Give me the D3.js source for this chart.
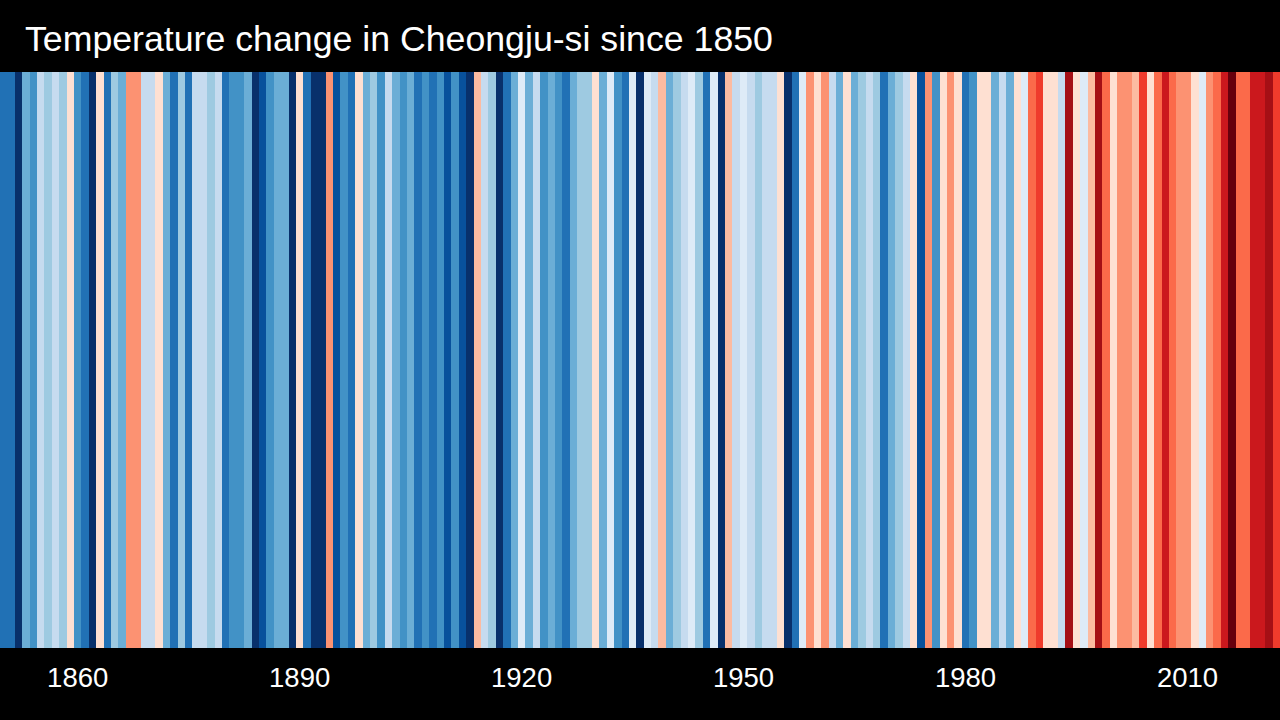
<!DOCTYPE html>
<html>
<head>
<meta charset="utf-8">
<script src="https://cdn.jsdelivr.net/npm/d3@7"></script>
<style>
html,body{margin:0;padding:0;background:#000;overflow:hidden}
svg{display:block}
text{font-family:"Liberation Sans",Arial,sans-serif;fill:#fff}
</style>
</head>
<body>
<svg id="chart" width="1280" height="720"></svg>
<script>
const chartTitle = "Temperature change in Cheongju-si since 1850";
const firstYear = 1850;
const tickYears = [1860, 1890, 1920, 1950, 1980, 2010];
const palette = ["#08306b","#08519c","#2171b5","#4292c6","#6baed6","#9ecae1","#c6dbef","#deebf7",
                 "#fee0d2","#fcbba1","#fc9272","#fb6a4a","#ef3b2c","#cb181d","#a50f15","#67000d"];
// Warming-stripe class per year (0 coldest .. 15 warmest), 1850 onward
const stripeClass = [
  2,2,0,4,3,6,5,6,5,8,
  3,2,0,8,2,5,4,10,10,6,
  6,8,4,2,5,2,6,6,5,6,
  2,3,3,4,0,1,3,4,4,0,
  8,2,0,0,10,1,3,2,8,4,
  5,3,6,4,3,4,2,3,2,3,
  1,3,1,0,9,6,5,0,2,4,
  7,4,6,3,4,3,2,4,5,5,
  8,4,7,3,2,7,0,7,6,9,
  4,5,6,7,5,2,7,0,9,6,
  7,6,5,6,6,8,0,2,7,10,
  8,10,6,4,8,4,5,6,5,2,
  4,5,6,8,1,10,3,8,10,8,
  2,3,8,8,4,6,4,8,7,11,
  12,8,8,6,14,8,7,9,14,11,
  8,10,10,9,12,8,11,13,11,10,
  10,8,7,10,11,13,15,11,11,13,
  13,14,12
];
const years = stripeClass.map((_, i) => firstYear + i);

const chartWidth = 1280, chartHeight = 720, stripeTop = 72, stripeBottom = 648;
const svg = d3.select("#chart");
const x = d3.scaleBand().domain(years).range([0, chartWidth]);
const color = d3.scaleOrdinal().domain(d3.range(palette.length)).range(palette);

svg.append("rect").attr("width", chartWidth).attr("height", chartHeight).attr("fill", "#000");

svg.append("g").selectAll("rect").data(years).join("rect")
  .attr("x", d => x(d))
  .attr("y", stripeTop)
  .attr("width", x.bandwidth())
  .attr("height", stripeBottom - stripeTop)
  .attr("shape-rendering", "crispEdges")
  .attr("fill", (d, i) => color(stripeClass[i]));

const axis = svg.append("g")
  .attr("transform", `translate(0,${stripeBottom})`)
  .call(d3.axisBottom(x).tickValues(tickYears).tickSize(0).tickPadding(0).tickFormat(d3.format("d")));
axis.select(".domain").remove();
axis.selectAll("text")
  .attr("y", 39).attr("dy", null)
  .style("font-family", '"Liberation Sans",Arial,sans-serif')
  .style("font-size", "27.5px")
  .attr("fill", "#fff");

svg.append("text")
  .attr("x", 25).attr("y", 50.5)
  .style("font-size", "35.7px")
  .text(chartTitle);
</script>
</body>
</html>
